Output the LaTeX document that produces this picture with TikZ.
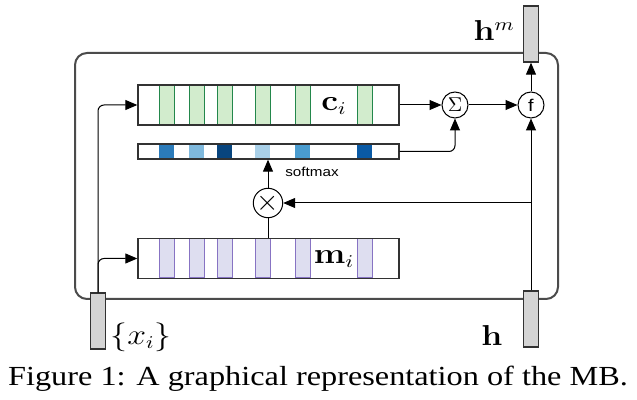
\documentclass[tikz,border=0pt]{standalone}
\usepackage[no-math]{fontspec}
\usepackage{amsmath, amssymb}
\usepackage{xcolor}
\usepackage{graphicx}
\usetikzlibrary{arrows.meta,positioning}
\newfontfamily\capfont{Liberation Serif}
\newfontfamily\labfont{Liberation Sans}
\newcommand{\wide}[1]{\scalebox{1.17}[1]{#1}}
\definecolor{frame}{RGB}{75,75,75}
\definecolor{boxline}{RGB}{50,50,50}
\definecolor{gfill}{RGB}{210,236,205}
\definecolor{gline}{RGB}{35,135,75}
\definecolor{pfill}{RGB}{222,222,240}
\definecolor{pline}{RGB}{135,115,195}
\definecolor{vecgray}{RGB}{212,212,212}
\definecolor{blueA}{RGB}{43,123,186}
\definecolor{blueB}{RGB}{127,185,221}
\definecolor{blueC}{RGB}{8,69,126}
\definecolor{blueD}{RGB}{169,208,232}
\definecolor{blueE}{RGB}{74,156,207}
\definecolor{blueF}{RGB}{10,90,165}
\tikzset{
	mem/.style={draw=boxline,line width=0.7pt,minimum width=130.5pt,minimum height=20pt,inner sep=0pt},
	bar/.style={draw=boxline,line width=0.7pt,minimum width=130.5pt,minimum height=7.5pt,inner sep=0pt},
	vec/.style={draw=boxline,fill=vecgray,line width=0.7pt,minimum width=7.5pt,minimum height=28pt,inner sep=0pt},
	op/.style={circle,draw,line width=0.5pt,minimum size=13pt,inner sep=0pt},
	arr/.style={-{Triangle[length=6pt,width=5pt]},line width=0.5pt},
	lab/.style={font=\fontsize{13.5}{15}\selectfont}
}

\begin{document}
\begin{tikzpicture}[x=0.5pt,y=-0.5pt]
	\useasboundingbox (0,0) rectangle (637,400);
	% outer block
	\draw[frame,line width=1pt,rounded corners=6pt] (75,53) rectangle (558,299);
	% memory rows
	\node[mem] (C) at (268.5,105) {};
	\node[bar] (S) at (268.5,151.5) {};
	\node[mem] (M) at (268.5,258.5) {};
	\foreach \xl in {159,189,217,255,295,357}{
		\draw[gline,fill=gfill,line width=0.5pt] (\xl,85) rectangle (\xl+15,125);
		\draw[pline,fill=pfill,line width=0.5pt] (\xl,239) rectangle (\xl+15,278);
	}
	\foreach \xl/\col in {159/blueA,189/blueB,217/blueC,255/blueD,295/blueE,357/blueF}{
		\fill[\col] (\xl,144.5) rectangle (\xl+15,158.5);
	}
	\node[mem] at (C) {};
	\node[mem] at (M) {};
	\node[bar] at (S) {};
	\node[lab] (cl) at (334,106) {\wide{$\mathbf{c}_i$}};
	\node[lab] (ml) at (334,259) {\wide{$\mathbf{m}_i$}};
	\node[font=\fontsize{6.5}{7}\labfont] (sl) at (312,172) {\wide{softmax}};
	% operators
	\node[op] (sum) at (455,105) {$\Sigma$};
	\node[op] (f) at (531,105) {\wide{\fontsize{8.5}{9}\labfont f}};
	\node[op] (mul) at (268,203) {\Large$\times$};
	% input and output vectors
	\node[vec] (hm) at (531,34) {};
	\node[vec] (h) at (531,319) {};
	\node[vec] (x) at (98,321) {};
	\node[lab,anchor=east] (hml) at (522,31) {\wide{$\mathbf{h}^m$}};
	\node[lab] (hl) at (492,336) {\wide{$\mathbf{h}$}};
	\node[lab] (xl) at (141,337) {\wide{$\{x_i\}$}};
	\coordinate (j) at (h.north |- mul);
	% connectors
	\draw[arr,rounded corners=3pt] (x.north) |- (C.west);
	\draw[arr,rounded corners=3pt] (x.north) |- (M.west);
	\draw[arr] (C.east) -- (sum.west);
	\draw[arr] (sum.east) -- (f.west);
	\draw[arr,rounded corners=3pt] (S.east) -| (sum.south);
	\draw[arr] (f.north) -- (hm.south);
	\draw[arr] (h.north) -- (f.south);
	\draw[arr] (j) -- (mul.east);
	\draw[arr] (mul.north) -- (mul.north |- S.south);
	\draw[line width=0.5pt] (mul.south) -- (mul.south |- M.north);
	% caption
	\node (cap) at (318,379) {\wide{\fontsize{13.8}{16}\capfont Figure 1: A graphical representation of the MB.}};
\end{tikzpicture}
\end{document}
